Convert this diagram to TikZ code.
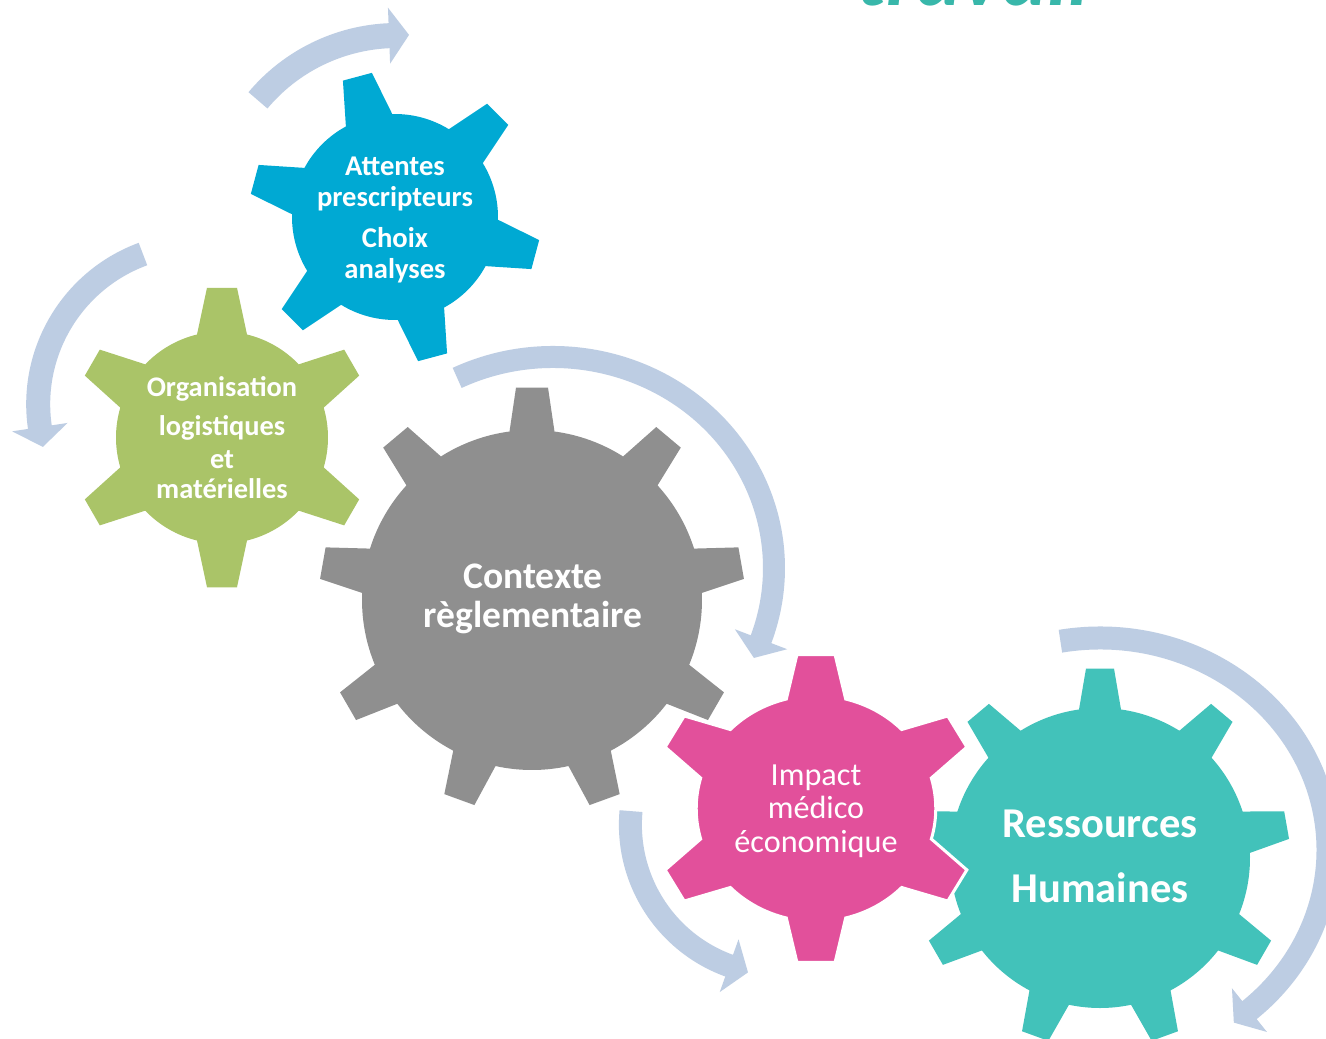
\documentclass[tikz,border=0pt]{standalone}
\usepackage{fontspec}
\setmainfont{Carlito}

\definecolor{gearblue}{RGB}{0,169,211}
\definecolor{geargreen}{RGB}{170,196,104}
\definecolor{geargray}{RGB}{143,143,143}
\definecolor{gearpink}{RGB}{226,80,155}
\definecolor{gearteal}{RGB}{66,194,186}
\definecolor{looparrow}{RGB}{189,205,227}
\definecolor{titleteal}{RGB}{56,183,170}

% lines centred under each other, the first baseline being the box baseline
\newcommand\stacklines[1]{\vtop{\lineskiplimit=-\maxdimen\halign{\hfil##\hfil\cr#1\crcr}}}

% gear: #1 centre, #2 teeth, #3 angle of first tooth, #4 body radius,
% #5 tip radius, #6 half width at root, #7 half width at tip, #8 style
\newcommand\gearshape[8]{%
  \pgfmathsetmacro\gstep{360/#2}%
  \pgfmathsetmacro\groot{asin(#6/#4)}%
  \pgfmathsetmacro\gtip{asin(#7/#5)}%
  \pgfmathtruncatemacro\glast{#2-1}%
  \path[shift={#1},#8] ({#3-\gstep+\groot}:#4)
    \foreach \gi in {0,...,\glast} {
      arc[start angle={#3+(\gi-1)*\gstep+\groot}, end angle={#3+\gi*\gstep-\groot}, radius=#4]
      -- ({#3+\gi*\gstep-\gtip}:#5) -- ({#3+\gi*\gstep+\gtip}:#5)
      -- ({#3+\gi*\gstep+\groot}:#4)
    } -- cycle;
}

% curved arrow along an ellipse arc: #1 centre, #2 x radius, #3 y radius,
% #4 start angle, #5 end angle, #6 shaft width
\newcommand\bentarrow[6]{%
  \pgfmathsetmacro\hdir{(#5>#4) ? 1 : -1}%
  \pgfmathsetmacro\hbx{(#2)*cos(#5)}%
  \pgfmathsetmacro\hby{(#3)*sin(#5)}%
  \pgfmathsetmacro\htx{0-(\hdir)*(#2)*sin(#5)}%
  \pgfmathsetmacro\hty{(\hdir)*(#3)*cos(#5)}%
  \pgfmathsetmacro\hlen{veclen(\htx,\hty)}%
  \pgfmathsetmacro\hux{(\htx)/(\hlen)}%
  \pgfmathsetmacro\huy{(\hty)/(\hlen)}%
  \begin{scope}[shift={#1}]
    \draw[loopshaft, line width=#6] ({(#2)*cos(#4)},{(#3)*sin(#4)})
      arc[start angle=#4, end angle=#5, x radius=#2, y radius=#3];
    \fill[loophead]
      ({\hbx-(\hux)-28*(\huy)},{\hby-(\huy)+28*(\hux)})
      -- ({\hbx+19*(\hux)},{\hby+19*(\huy)})
      -- ({\hbx-(\hux)+28*(\huy)},{\hby-(\huy)-28*(\hux)}) -- cycle;
  \end{scope}
}

\tikzset{
  loopshaft/.style={draw=looparrow, line cap=butt},
  loophead/.style={fill=looparrow},
  gearlabel/.style={text=white, inner sep=0pt, anchor=base},
}

\begin{document}
\begin{tikzpicture}[x=1pt, y=-1pt]
  \useasboundingbox (0,0) rectangle (1326,1039);
  \clip (0,0) rectangle (1326,1039);
  \fill[white] (0,0) rectangle (1326,1039);

  % title word, mostly above the frame
  \node[anchor=base west, inner sep=0pt, text=titleteal,
        font=\fontsize{86}{90}\selectfont\bfseries\itshape] (title) at (856,5) {travail};

  % gear centres
  \coordinate (cblue)  at (395,217);
  \coordinate (cgreen) at (222,437.5);
  \coordinate (cgray)  at (532,600);
  \coordinate (cpink)  at (816,808.5);
  \coordinate (cteal)  at (1100,858);

  % turning arrows
  \bentarrow{(397,217)}{181.5}{181.5}{220}{267.8}{25}
  \bentarrow{(198.2,404.2)}{160}{160}{249.8}{171.4}{24}
  \bentarrow{(553,568)}{221}{211}{244.3}{380}{22}
  \bentarrow{(780.4,824.7)}{150}{150}{185.2}{109.6}{23}
  \bentarrow{(1100,850)}{228}{212}{260}{409.3}{23}

  % gears
  \gearshape{(cblue)}{6}{15}{103}{146}{24}{15}{fill=gearblue}
  \gearshape{(cgreen)}{6}{30}{106}{150.5}{25}{15}{fill=geargreen}
  \gearshape{(cgray)}{9}{30}{170}{213}{22.5}{16}{fill=geargray}
  \gearshape{(cteal)}{9}{30}{150}{190}{21}{14}{fill=gearteal}
  \gearshape{(cpink)}{6}{30}{113}{155}{28}{18}{xscale=1.06, fill=gearpink, draw=white, line width=3}

  % labels
  \node[gearlabel, font=\fontsize{28.6}{31}\selectfont\bfseries] (lblue) at (395,175)
    {\stacklines{Attentes\cr prescripteurs\cr\noalign{\vskip 10pt}Choix\cr analyses}};
  \node[gearlabel, font=\fontsize{28.4}{30.5}\selectfont\bfseries] (lgreen) at (222,396)
    {\stacklines{Organisation\cr\noalign{\vskip 8.5pt}logistiques\cr\noalign{\vskip 2.5pt}et\cr matérielles}};
  \node[gearlabel, font=\fontsize{37.5}{39}\selectfont\bfseries] (lgray) at (533,588)
    {\stacklines{Contexte\cr règlementaire}};
  \node[gearlabel, font=\fontsize{32.2}{33.5}\selectfont] (lpink) at (816,785)
    {\stacklines{Impact\cr médico\cr économique}};
  \node[gearlabel, font=\fontsize{42.5}{65}\selectfont\bfseries] (lteal) at (1100,837)
    {\stacklines{Ressources\cr Humaines}};
\end{tikzpicture}
\end{document}
